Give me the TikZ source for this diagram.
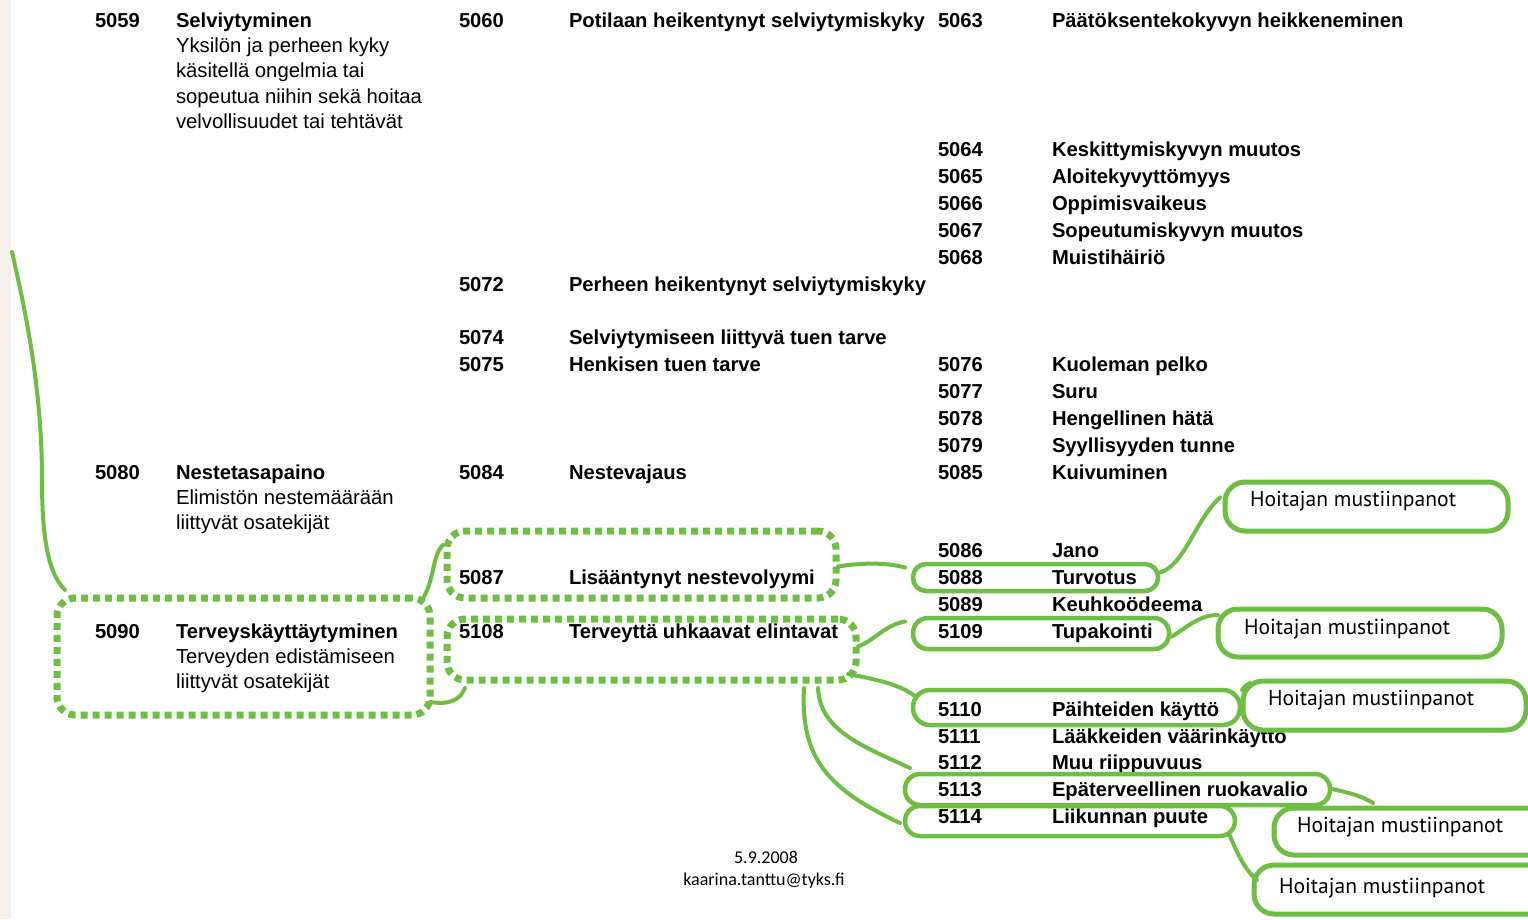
\documentclass[tikz,border=0pt]{standalone}
\usepackage{fontspec}
\setmainfont{Liberation Sans}
\newfontfamily\hfont{PT Sans}
\newfontfamily\dfont{Carlito}
\definecolor{gr}{RGB}{110,190,68}
\definecolor{beige}{RGB}{247,240,234}
\begin{document}
\begin{tikzpicture}[x=1pt,y=-1pt,
  every node/.style={inner sep=0pt, outer sep=0pt},
  num/.style={anchor=base west, font=\fontsize{20.2}{24}\selectfont\bfseries},
  desc/.style={anchor=base west, font=\fontsize{20.3}{24}\selectfont},
  dotbox/.style={draw=gr, line width=7pt, dash pattern=on 7pt off 5pt, rounded corners=18pt, anchor=north west},
  pill/.style={draw=gr, line width=4.5pt, anchor=north west},
  hbox/.style={draw=gr, line width=5pt, rounded corners=20pt, anchor=north west},
  htext/.style={anchor=base west, font=\hfont\fontsize{21.6}{24}\selectfont},
  dtext/.style={anchor=base, font=\dfont\fontsize{18}{20}\selectfont},
  brush/.style={draw=gr, line width=4pt, line cap=round}]
\useasboundingbox (0,0) rectangle (1528,919);
\clip (0,0) rectangle (1528,919);
\fill[white] (0,0) rectangle (1528,919);
\fill[beige] (0,0) rectangle (11,919);

% column 1
\node[num] (n5059) at (95,27.3) {5059};
\node[num] (t5059) at (176,27.3) {Selviytyminen};
\node[desc] (d5059a) at (176,52.5) {Yksilön ja perheen kyky};
\node[desc] (d5059b) at (176,77.8) {käsitellä ongelmia tai};
\node[desc] (d5059c) at (176,103) {sopeutua niihin sekä hoitaa};
\node[desc] (d5059d) at (176,128.3) {velvollisuudet tai tehtävät};
\node[num] (n5080) at (95,479.3) {5080};
\node[num] (t5080) at (176,479.3) {Nestetasapaino};
\node[desc] (d5080a) at (176,504.5) {Elimistön nestemäärään};
\node[desc] (d5080b) at (176,529.8) {liittyvät osatekijät};
\node[num] (n5090) at (95,638.3) {5090};
\node[num] (t5090) at (176,638.3) {Terveyskäyttäytyminen};
\node[desc] (d5090a) at (176,663) {Terveyden edistämiseen};
\node[desc] (d5090b) at (176,688.3) {liittyvät osatekijät};

% column 2
\node[num] (n5060) at (459,27.3) {5060};
\node[num] (t5060) at (569,27.3) {Potilaan heikentynyt selviytymiskyky};
\node[num] (n5072) at (459,291.3) {5072};
\node[num] (t5072) at (569,291.3) {Perheen heikentynyt selviytymiskyky};
\node[num] (n5074) at (459,344.3) {5074};
\node[num] (t5074) at (569,344.3) {Selviytymiseen liittyvä tuen tarve};
\node[num] (n5075) at (459,371.3) {5075};
\node[num] (t5075) at (569,371.3) {Henkisen tuen tarve};
\node[num] (n5084) at (459,479.3) {5084};
\node[num] (t5084) at (569,479.3) {Nestevajaus};
\node[num] (n5087) at (459,584) {5087};
\node[num] (t5087) at (569,584) {Lisääntynyt nestevolyymi};
\node[num] (n5108) at (459,638.3) {5108};
\node[num] (t5108) at (569,638.3) {Terveyttä uhkaavat elintavat};

% column 3
\node[num] (n5063) at (938,27.3) {5063};
\node[num] (t5063) at (1052,27.3) {Päätöksentekokyvyn heikkeneminen};
\node[num] (n5064) at (938,156.3) {5064};
\node[num] (t5064) at (1052,156.3) {Keskittymiskyvyn muutos};
\node[num] (n5065) at (938,183.3) {5065};
\node[num] (t5065) at (1052,183.3) {Aloitekyvyttömyys};
\node[num] (n5066) at (938,210.3) {5066};
\node[num] (t5066) at (1052,210.3) {Oppimisvaikeus};
\node[num] (n5067) at (938,237.3) {5067};
\node[num] (t5067) at (1052,237.3) {Sopeutumiskyvyn muutos};
\node[num] (n5068) at (938,264.3) {5068};
\node[num] (t5068) at (1052,264.3) {Muistihäiriö};
\node[num] (n5076) at (938,371.3) {5076};
\node[num] (t5076) at (1052,371.3) {Kuoleman pelko};
\node[num] (n5077) at (938,398.3) {5077};
\node[num] (t5077) at (1052,398.3) {Suru};
\node[num] (n5078) at (938,425.3) {5078};
\node[num] (t5078) at (1052,425.3) {Hengellinen hätä};
\node[num] (n5079) at (938,452.3) {5079};
\node[num] (t5079) at (1052,452.3) {Syyllisyyden tunne};
\node[num] (n5085) at (938,479.3) {5085};
\node[num] (t5085) at (1052,479.3) {Kuivuminen};
\node[num] (n5086) at (938,557.3) {5086};
\node[num] (t5086) at (1052,557.3) {Jano};
\node[num] (n5088) at (938,584) {5088};
\node[num] (t5088) at (1052,584) {Turvotus};
\node[num] (n5089) at (938,611) {5089};
\node[num] (t5089) at (1052,611) {Keuhkoödeema};
\node[num] (n5109) at (938,638.3) {5109};
\node[num] (t5109) at (1052,638.3) {Tupakointi};
\node[num] (n5110) at (938,716) {5110};
\node[num] (t5110) at (1052,716) {Päihteiden käyttö};
\node[num] (n5111) at (938,743) {5111};
\node[num] (t5111) at (1052,743) {Lääkkeiden väärinkäyttö};
\node[num] (n5112) at (938,769.5) {5112};
\node[num] (t5112) at (1052,769.5) {Muu riippuvuus};
\node[num] (n5113) at (938,796) {5113};
\node[num] (t5113) at (1052,796) {Epäterveellinen ruokavalio};
\node[num] (n5114) at (938,823) {5114};
\node[num] (t5114) at (1052,823) {Liikunnan puute};

% footer
\node[dtext] (date) at (766,863) {5.9.2008};
\node[dtext] (mail) at (764,885) {kaarina.tanttu@tyks.fi};

% dotted boxes
\node[dotbox, minimum width=373pt, minimum height=117pt] (d5090) at (57,598) {};
\node[dotbox, minimum width=389pt, minimum height=67pt] (d5087) at (447,531) {};
\node[dotbox, minimum width=409pt, minimum height=61pt] (d5108) at (447,619) {};

% pills
\node[pill, rounded corners=13pt, minimum width=245pt, minimum height=27pt] (b5088) at (913,564) {};
\node[pill, rounded corners=15pt, minimum width=256pt, minimum height=31pt] (b5109) at (913,618) {};
\node[pill, rounded corners=17pt, minimum width=327pt, minimum height=35pt] (b5110) at (913,690) {};
\node[pill, rounded corners=15pt, minimum width=425pt, minimum height=31pt] (b5113) at (905,774) {};
\node[pill, rounded corners=15pt, minimum width=330pt, minimum height=30pt] (b5114) at (905,806) {};

% notes boxes
\node[hbox, minimum width=283pt, minimum height=49pt] (h1) at (1225,482) {};
\node[hbox, minimum width=284pt, minimum height=48pt] (h2) at (1218,609) {};
\node[hbox, minimum width=283pt, minimum height=49pt] (h3) at (1243,681) {};
\node[hbox, minimum width=290pt, minimum height=47pt] (h4) at (1274,808) {};
\node[hbox, minimum width=300pt, minimum height=49pt] (h5) at (1254,865) {};
\node[htext] (ht1) at (1250,506) {Hoitajan mustiinpanot};
\node[htext] (ht2) at (1244,634) {Hoitajan mustiinpanot};
\node[htext] (ht3) at (1268,705) {Hoitajan mustiinpanot};
\node[htext] (ht4) at (1297,832) {Hoitajan mustiinpanot};
\node[htext] (ht5) at (1279,893) {Hoitajan mustiinpanot};

% brush connectors
\coordinate (top) at (12,252);
\draw[brush] (top) .. controls (30,330) and (42,400) .. (42,480) .. controls (42,545) and (50,575) .. ([shift={(8,-8)}]d5090.north west);
\draw[brush] ([shift={(-8,2)}]d5090.north east) .. controls (435,580) and (432,555) .. ([shift={(-4,14)}]d5087.north west);
\draw[brush] ([shift={(0,-13)}]d5090.south east) .. controls (450,705) and (460,700) .. ([shift={(18,8)}]d5108.south west);
\draw[brush] ([shift={(2,2)}]d5087.east) .. controls (860,563) and (885,562) .. ([shift={(-8,-10)}]b5088.west);
\draw[brush] ([shift={(2,-3)}]d5108.east) .. controls (875,640) and (885,625) .. ([shift={(-8,-12)}]b5109.west);
\draw[brush] ([shift={(-8,-6)}]d5108.south east) .. controls (880,680) and (900,685) .. ([shift={(2,6)}]b5110.north west);
\draw[brush] ([shift={(-38,8)}]d5108.south east) .. controls (820,730) and (860,745) .. ([shift={(5,-6)}]b5113.north west);
\draw[brush] ([shift={(-52,8)}]d5108.south east) .. controls (800,760) and (830,790) .. ([shift={(-5,2)}]b5114.west);
\draw[brush] ([shift={(2,-5)}]b5088.east) .. controls (1185,565) and (1195,520) .. ([shift={(-5,-9)}]h1.west);
\draw[brush] ([shift={(3,3)}]b5109.east) .. controls (1190,625) and (1200,615) .. ([shift={(0,-18)}]h2.west);
\draw[brush] ([shift={(2,0)}]b5110.north east) .. controls (1245,686) and (1247,684) .. ([shift={(7,2)}]h3.north west);
\draw[brush] ([shift={(0,-1)}]b5113.east) .. controls (1350,793) and (1362,796) .. ([shift={(99,-5)}]h4.north west);
\draw[brush] ([shift={(-5,0)}]b5114.south east) .. controls (1238,855) and (1245,870) .. ([shift={(3,-9.5)}]h5.west);
\end{tikzpicture}
\end{document}
